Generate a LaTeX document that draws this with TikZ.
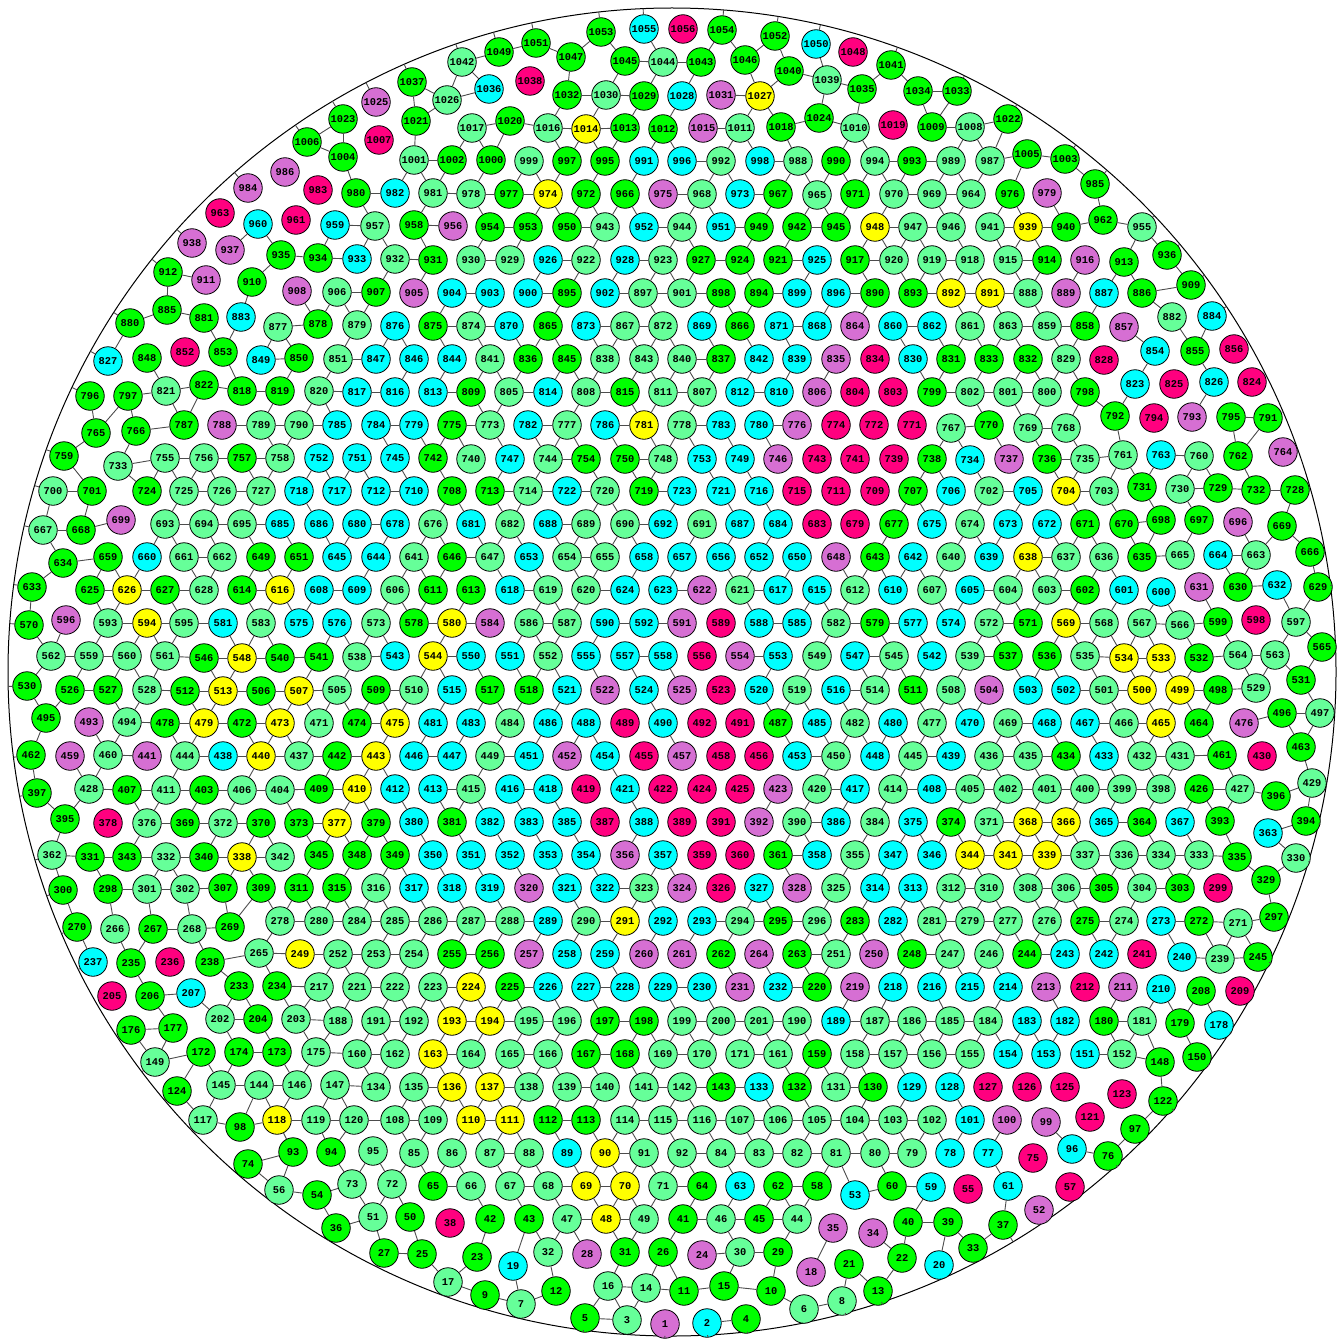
\documentclass[tikz,border=0pt]{standalone}
\usepackage{fontspec}
\setmonofont{Liberation Mono}
\definecolor{ballgreen}{HTML}{00FF00}
\definecolor{ballmint}{HTML}{66FF99}
\definecolor{ballcyan}{HTML}{00FFFF}
\definecolor{ballyellow}{HTML}{FFFF00}
\definecolor{ballorchid}{HTML}{D66FD3}
\definecolor{ballpink}{HTML}{FF007F}
\tikzset{
ball/.style={circle, draw=black, line width=0.8pt, minimum size=28.5pt, inner sep=0pt, font=\ttfamily\bfseries\fontsize{10.4}{11}\selectfont},
ballg/.style={ball, fill=ballgreen},
ballm/.style={ball, fill=ballmint},
ballc/.style={ball, fill=ballcyan},
bally/.style={ball, fill=ballyellow},
ballp/.style={ball, fill=ballorchid},
ballr/.style={ball, fill=ballpink},
linkline/.style={draw=black!70, line width=0.9pt}
}
\def\degreeg{3}\def\degreem{4}\def\degreec{2}\def\degreey{5}\def\degreep{1}\def\degreer{0}
\newcount\nnodes \newcount\ncand \newcount\nodei \newcount\nodej \newcount\candk
\newcount\canda \newcount\candb \newcount\gapx \newcount\gapy \newcount\gapd
\newcount\changed \newcount\openleft \newcount\stride \newcount\stridepos
\def\X#1{\count\numexpr10000+#1\relax}
\def\Y#1{\count\numexpr11200+#1\relax}
\def\Cap#1{\count\numexpr12400+#1\relax}
\def\Lab#1{\count\numexpr13600+#1\relax}
\def\Av#1{\count\numexpr14800+#1\relax}
\def\Tch#1{\count\numexpr16000+#1\relax}
\def\Tk#1{\count\numexpr17200+#1\relax}
\def\CA#1{\count\numexpr20000+#1\relax}
\def\CB#1{\count\numexpr24000+#1\relax}
\def\CS#1{\count\numexpr28000+#1\relax}
\def\storeball#1#2#3#4{%
  \global\advance\nnodes 1
  \global\X\nnodes=#1 \global\Y\nnodes=#2
  \global\Cap\nnodes=\csname degree#3\endcsname\relax
  \global\Lab\nnodes=#4 }
\def\reserveticks{%
  \nodei=0
  \loop\ifnum\nodei<\nnodes \advance\nodei 1
    \Tk\nodei=0
    \gapd=\numexpr(\X\nodei-672)*(\X\nodei-672)+(\Y\nodei-672)*(\Y\nodei-672)\relax
    \ifnum\gapd>401956 \ifnum\Cap\nodei>0
      \Tk\nodei=1 \advance\Cap\nodei -1
    \fi\fi
  \repeat}
\def\buildcand{%
  \ncand=0 \nodei=1 \nodej=2
  \loop\ifnum\nodei<\nnodes
    \gapx=\numexpr\X\nodei-\X\nodej\relax
    \ifnum\gapx<50 \ifnum\gapx>-50
      \gapy=\numexpr\Y\nodei-\Y\nodej\relax
      \gapd=\numexpr\gapx*\gapx+\gapy*\gapy\relax
      \ifnum\gapd<2500
        \advance\ncand 1
        \CA\ncand=\nodei \CB\ncand=\nodej \CS\ncand=0
      \fi
    \fi\fi
    \advance\nodej 1
    \ifnum\nodej>\nnodes \advance\nodei 1 \nodej=\numexpr\nodei+1\relax\fi
  \repeat}
\def\seeduse{\ifnum\CS\candk=0 \ifnum\Cap\canda>0 \ifnum\Cap\candb>0
  \global\CS\candk=1 \global\advance\Cap\canda -1 \global\advance\Cap\candb -1
  \fi\fi\fi}
\def\seedlink#1#2{%
  \candk=0
  \loop\ifnum\candk<\ncand \advance\candk 1
    \canda=\CA\candk \candb=\CB\candk
    \ifnum\Lab\canda=#1 \ifnum\Lab\candb=#2 \seeduse\fi\fi
    \ifnum\Lab\canda=#2 \ifnum\Lab\candb=#1 \seeduse\fi\fi
  \repeat}
\def\usecand{\CS\candk=1 \advance\Cap\canda -1 \advance\Cap\candb -1
  \advance\Av\canda -1 \advance\Av\candb -1 \changed=1 }
\def\matchround{%
  \nodei=0
  \loop\ifnum\nodei<\nnodes \advance\nodei 1 \Av\nodei=0 \Tch\nodei=0 \repeat
  \openleft=0 \candk=0
  \loop\ifnum\candk<\ncand \advance\candk 1
    \ifnum\CS\candk=0
      \canda=\CA\candk \candb=\CB\candk
      \ifnum\Cap\canda=0 \CS\candk=2
      \else\ifnum\Cap\candb=0 \CS\candk=2
      \else \advance\Av\canda 1 \advance\Av\candb 1 \advance\openleft 1 \fi\fi
    \fi
  \repeat
  \changed=0 \candk=0
  \loop\ifnum\candk<\ncand \advance\candk 1
    \advance\stridepos 1
    \ifnum\CS\candk=0
      \canda=\CA\candk \candb=\CB\candk
      \ifnum\Cap\canda>0 \ifnum\Cap\candb>0
        \ifnum\Av\canda>\Cap\canda
          \ifnum\Av\candb>\Cap\candb
            \ifnum\stridepos<\stride\else
              \ifnum\Tch\canda=0 \ifnum\Tch\candb=0
                \usecand \Tch\canda=1 \Tch\candb=1
              \fi\fi
            \fi
          \else \usecand \fi
        \else \usecand \fi
      \fi\fi
    \fi
    \ifnum\stridepos<\stride\else\stridepos=0 \fi
  \repeat
  \advance\stridepos 1 }
\def\runmatch{\matchround
  \ifnum\openleft>0
    \ifnum\changed=0 \stride=1 \else\stride=3 \fi
    \expandafter\runmatch
  \fi}
\begin{document}
\begin{tikzpicture}[x=1pt,y=-1pt]
\clip (0,0) rectangle (1337,1340);
\draw[line width=1pt] (672,672) circle (664pt);
\foreach \px/\py/\pc/\pl in {
644/29/c/1055,683/29/r/1056,722/30/g/1054,601/32/g/1053,775/36/g/1052,816/44/c/1050,853/52/r/1048,499/52/g/1049,536/43/g/1051,571/57/g/1047,625/61/g/1045,663/62/m/1044,701/62/g/1043,745/60/g/1046,462/62/m/1042,891/65/g/1041,789/71/g/1040,827/80/m/1039,530/81/r/1038,412/82/g/1037,862/89/g/1035,489/89/c/1036,918/91/g/1034,957/91/g/1033,567/95/g/1032,606/95/m/1030,644/96/g/1029,682/96/c/1028,721/95/p/1031,760/96/y/1027,447/100/m/1026,376/102/p/1025,
819/118/g/1024,343/119/g/1023,1008/119/g/1022,416/121/g/1021,510/121/g/1020,472/128/m/1017,548/128/m/1016,586/129/y/1014,625/128/g/1013,663/129/g/1012,703/128/p/1015,740/128/m/1011,781/127/g/1018,855/128/m/1010,893/125/r/1019,932/127/g/1009,970/127/m/1008,379/140/r/1007,307/142/g/1006,1027/154/g/1005,343/157/g/1004,1065/159/g/1003,
414/160/m/1001,452/160/g/1002,491/160/g/1000,529/161/m/999,567/161/g/997,605/161/g/995,644/161/c/991,682/161/c/996,721/161/m/992,760/161/c/998,798/161/m/988,836/161/g/990,875/161/m/994,912/161/g/993,951/161/m/989,990/161/m/987,285/172/p/986,1095/184/g/985,248/188/p/984,318/190/r/983,
395/193/c/982,433/193/m/981,356/193/g/980,471/194/m/978,509/194/g/977,548/194/y/974,586/194/g/972,625/194/g/966,663/194/p/975,702/194/m/968,740/194/c/973,778/194/g/967,817/195/m/965,855/194/g/971,894/194/m/970,932/194/m/969,971/194/m/964,1010/194/g/976,1047/193/p/979,220/213/r/963,296/220/r/961,1103/220/g/962,258/224/c/960,335/225/c/959,
414/225/g/958,375/226/m/957,453/226/p/956,490/227/g/954,528/227/g/953,567/227/g/950,605/227/m/943,644/227/c/952,682/227/m/944,721/227/c/951,759/227/g/949,797/227/g/942,836/227/g/945,875/227/y/948,913/227/m/947,951/227/m/946,990/227/m/941,1028/227/y/939,1066/227/g/940,1142/227/m/955,192/243/p/938,230/250/p/937,1167/255/g/936,281/255/g/935,
318/258/g/934,357/259/c/933,395/259/m/932,433/260/g/931,471/260/m/930,510/260/m/929,548/260/c/926,586/260/m/922,625/260/c/928,663/260/m/923,701/260/g/927,740/260/g/924,778/260/g/921,817/260/c/925,855/260/g/917,894/260/m/920,932/260/m/919,970/260/m/918,1008/260/m/915,1047/260/g/914,1085/260/p/916,1124/262/g/913,168/272/g/912,206/280/p/911,252/282/g/910,1191/285/g/909,
297/291/p/908,376/292/g/907,337/292/m/906,414/293/p/905,452/293/c/904,490/293/c/903,528/293/c/900,567/293/g/895,605/293/c/902,643/293/m/897,682/293/m/901,721/293/g/898,759/293/g/894,797/293/c/899,836/293/c/896,875/293/g/890,913/293/g/893,951/293/y/892,990/293/y/891,1028/293/m/888,1066/293/p/889,1104/293/c/887,1142/293/g/886,167/310/g/885,1212/316/c/884,241/317/c/883,1172/317/m/882,204/318/g/881,130/323/g/880,
357/325/m/879,318/324/g/878,278/327/m/877,395/326/c/876,433/326/g/875,471/326/m/874,509/326/c/870,548/326/g/865,586/326/c/873,625/326/m/867,663/326/m/872,702/326/c/869,740/326/g/866,779/326/c/871,817/326/c/868,855/326/p/864,893/326/c/860,932/326/c/862,970/326/m/861,1008/326/m/863,1047/326/m/859,1085/326/g/858,1124/327/p/857,1234/349/r/856,1195/351/g/855,1155/351/c/854,223/352/g/853,185/352/r/852,
338/359/m/851,299/358/g/850,261/360/c/849,147/358/g/848,376/359/c/847,414/359/c/846,452/359/c/844,490/359/m/841,528/359/g/836,567/359/g/845,605/359/m/838,644/359/m/843,682/359/m/840,721/359/g/837,759/359/c/842,797/359/c/839,836/359/p/835,875/359/r/834,913/359/c/830,951/359/g/831,989/359/g/833,1028/359/g/832,1066/359/m/829,1104/360/r/828,108/361/c/827,1214/382/c/826,1174/384/r/825,1252/382/r/824,1135/384/c/823,204/385/g/822,166/391/m/821,
319/391/m/820,280/391/g/819,242/391/g/818,357/392/c/817,395/392/c/816,433/392/c/813,471/392/g/809,509/392/m/805,548/392/c/814,586/392/m/808,625/392/g/815,663/392/m/811,702/392/m/807,740/392/c/812,779/392/c/810,817/392/p/806,855/392/r/804,893/392/r/803,932/392/g/799,970/392/m/802,1008/392/m/801,1047/392/m/800,1085/392/g/798,128/396/g/797,90/396/g/796,1231/417/g/795,1154/418/r/794,1192/417/p/793,1115/416/g/792,1268/418/g/791,
299/425/m/790,261/425/m/789,222/425/p/788,184/425/g/787,337/425/c/785,376/425/c/784,414/425/c/779,452/425/g/775,490/425/m/773,528/425/c/782,567/425/m/777,605/425/c/786,644/425/y/781,682/425/m/778,721/425/c/783,759/425/c/780,797/425/p/776,836/425/r/774,874/425/r/772,912/425/r/771,951/428/m/767,989/425/g/770,1028/428/m/769,1066/428/m/768,136/431/g/766,96/433/g/765,1283/452/p/764,1161/455/c/763,1238/456/g/762,1123/455/m/761,1199/456/m/760,64/456/g/759,
280/458/m/758,242/458/g/757,204/458/m/756,165/458/m/755,319/458/c/752,357/458/c/751,395/458/c/745,433/458/g/742,471/459/m/740,510/459/c/747,548/459/m/744,586/459/g/754,625/459/g/750,663/459/m/748,702/459/c/753,740/459/c/749,778/459/p/746,817/459/r/743,855/459/r/741,894/459/r/739,932/459/g/738,970/460/c/734,1009/459/p/737,1047/459/g/736,1085/459/m/735,118/466/m/733,1256/490/g/732,1142/487/g/731,1180/489/m/730,1218/488/g/729,1295/490/g/728,
261/491/m/727,222/491/m/726,184/491/m/725,147/491/g/724,682/491/c/723,567/491/c/722,721/491/c/721,605/491/m/720,644/491/g/719,299/491/c/718,337/491/c/717,759/491/c/716,797/491/r/715,528/491/m/714,490/491/g/713,376/491/c/712,836/491/r/711,414/491/c/710,875/491/r/709,452/491/g/708,913/491/g/707,951/491/c/706,1028/491/c/705,1066/491/y/704,1104/491/m/703,989/491/m/702,92/491/g/701,53/491/m/700,121/520/p/699,1161/520/g/698,1199/520/g/697,1238/522/p/696,
242/524/m/695,204/524/m/694,165/524/m/693,663/524/c/692,702/524/m/691,625/524/m/690,586/524/m/689,548/524/c/688,740/524/c/687,319/524/c/686,280/524/c/685,778/524/c/684,817/524/r/683,510/524/m/682,471/524/c/681,357/524/c/680,855/524/r/679,395/524/c/678,894/524/g/677,433/524/m/676,932/524/c/675,970/524/m/674,1008/524/c/673,1047/524/c/672,1085/524/g/671,1124/524/g/670,1282/526/g/669,81/530/g/668,43/530/m/667,1310/552/g/666,1180/555/m/665,1218/555/c/664,1256/555/m/663,
222/557/m/662,184/557/m/661,147/557/c/660,108/557/g/659,644/557/c/658,682/557/c/657,721/557/c/656,605/557/m/655,567/557/m/654,529/557/c/653,759/557/c/652,299/557/g/651,797/557/c/650,261/557/g/649,836/557/p/648,490/557/m/647,452/557/g/646,337/557/c/645,376/557/c/644,875/557/g/643,913/557/c/642,414/557/m/641,951/557/m/640,989/557/c/639,1028/557/y/638,1066/557/m/637,1104/557/m/636,1142/557/g/635,63/563/g/634,32/587/g/633,1277/585/c/632,1199/587/p/631,1238/587/g/630,1318/587/g/629,
204/590/m/628,165/590/g/627,127/590/y/626,90/590/g/625,625/590/c/624,663/590/c/623,702/590/p/622,740/590/m/621,586/590/m/620,548/590/m/619,510/590/c/618,778/590/c/617,280/590/y/616,817/590/c/615,242/590/g/614,471/590/g/613,855/590/m/612,433/590/g/611,893/590/c/610,357/590/c/609,319/590/c/608,932/590/m/607,395/590/m/606,970/590/c/605,1008/590/m/604,1047/590/m/603,1085/590/g/602,1124/590/c/601,1161/592/c/600,1218/622/g/599,1256/620/r/598,1296/622/m/597,66/620/p/596,
184/623/m/595,147/623/y/594,108/623/m/593,644/623/c/592,682/623/p/591,605/623/c/590,721/623/r/589,759/623/c/588,567/623/m/587,529/623/m/586,797/623/c/585,490/623/p/584,261/623/m/583,836/623/m/582,223/623/c/581,452/623/y/580,875/623/g/579,414/623/g/578,913/623/c/577,337/623/c/576,299/623/c/575,951/623/c/574,376/623/m/573,989/623/m/572,1028/623/g/571,29/625/g/570,1066/623/y/569,1104/623/m/568,1142/623/m/567,1180/625/m/566,1322/647/g/565,1238/655/m/564,1275/655/m/563,51/656/m/562,
165/656/m/561,127/656/m/560,89/656/m/559,663/656/c/558,625/656/c/557,702/656/r/556,586/656/c/555,740/656/p/554,778/656/c/553,548/656/m/552,510/656/c/551,471/656/c/550,817/656/m/549,242/658/y/548,855/656/c/547,204/658/g/546,894/656/m/545,433/656/y/544,395/656/c/543,932/656/c/542,319/657/g/541,280/658/g/540,970/656/m/539,357/657/m/538,1008/656/g/537,1047/656/g/536,1085/656/m/535,1124/658/y/534,1161/658/y/533,1199/658/g/532,1301/680/g/531,27/686/g/530,1256/688/m/529,
147/690/m/528,108/690/g/527,70/690/g/526,682/690/p/525,644/690/c/524,721/690/r/523,605/690/p/522,567/690/c/521,759/690/c/520,797/690/m/519,529/690/g/518,490/690/g/517,836/690/c/516,452/690/c/515,875/690/m/514,223/691/y/513,185/691/g/512,913/690/g/511,414/690/m/510,376/690/g/509,951/690/m/508,299/691/y/507,261/691/g/506,337/690/m/505,989/690/p/504,1028/690/c/503,1066/690/c/502,1104/690/m/501,1142/690/y/500,1180/690/y/499,1218/690/g/498,1320/713/m/497,1282/713/g/496,46/718/g/495,
127/722/m/494,89/722/p/493,702/723/r/492,740/723/r/491,663/723/c/490,625/723/r/489,586/723/c/488,778/723/g/487,548/723/c/486,817/723/c/485,510/723/m/484,471/723/c/483,855/723/m/482,433/723/c/481,893/723/c/480,204/723/y/479,165/723/g/478,932/723/m/477,1244/723/p/476,395/723/y/475,357/723/g/474,280/723/y/473,242/723/g/472,319/723/m/471,970/723/c/470,1008/723/m/469,1047/723/c/468,1085/723/c/467,1124/723/m/466,1161/723/y/465,1199/723/g/464,1301/747/g/463,31/755/g/462,1222/755/g/461,
108/755/m/460,70/756/p/459,721/756/r/458,682/756/p/457,759/756/r/456,644/756/r/455,605/756/c/454,797/756/c/453,567/756/p/452,529/756/c/451,836/756/m/450,490/756/m/449,875/756/c/448,452/756/c/447,414/756/c/446,913/756/m/445,185/756/m/444,376/756/y/443,337/756/g/442,147/756/p/441,261/756/y/440,951/756/c/439,223/756/c/438,299/756/m/437,989/756/m/436,1028/756/m/435,1066/756/g/434,1104/756/c/433,1142/756/m/432,1180/756/m/431,1262/756/r/430,1312/783/m/429,
89/789/m/428,1240/789/m/427,1199/789/g/426,740/789/r/425,702/789/r/424,778/789/p/423,663/789/r/422,625/789/c/421,817/789/m/420,586/789/r/419,548/789/c/418,855/789/c/417,510/789/c/416,471/789/m/415,893/789/m/414,433/789/c/413,395/789/c/412,166/790/m/411,357/789/y/410,319/789/g/409,932/789/c/408,127/790/g/407,242/790/m/406,970/789/m/405,280/790/m/404,204/790/g/403,1008/789/m/402,1047/789/m/401,1085/789/m/400,1122/789/m/399,1161/789/m/398,37/793/g/397,1276/796/g/396,65/819/g/395,1306/821/g/394,1220/821/g/393,
759/822/p/392,721/822/r/391,797/822/m/390,682/822/r/389,644/822/c/388,605/822/r/387,836/822/c/386,567/822/c/385,875/822/m/384,529/822/c/383,490/822/c/382,452/822/g/381,414/822/c/380,376/823/g/379,108/823/r/378,337/823/y/377,147/823/m/376,913/822/c/375,951/822/g/374,299/823/g/373,223/823/m/372,989/822/m/371,261/823/g/370,185/823/g/369,1028/822/y/368,1180/822/c/367,1066/822/y/366,1104/822/c/365,1142/822/g/364,1268/833/c/363,52/855/m/362,
778/855/g/361,740/855/r/360,702/855/r/359,817/855/c/358,663/855/c/357,625/855/p/356,855/855/m/355,586/855/c/354,548/855/c/353,510/855/c/352,471/855/c/351,433/855/c/350,395/855/g/349,357/855/g/348,893/855/c/347,932/855/c/346,319/855/g/345,970/855/y/344,127/857/g/343,280/857/m/342,1008/855/y/341,204/857/g/340,1047/855/y/339,242/857/y/338,1085/855/m/337,1124/855/m/336,1237/857/g/335,1161/855/m/334,1199/855/m/333,166/857/m/332,90/857/g/331,1296/858/m/330,1266/880/g/329,
797/888/p/328,759/888/c/327,721/888/r/326,836/888/m/325,682/888/p/324,644/888/m/323,605/888/c/322,567/888/c/321,529/888/p/320,490/888/c/319,452/888/c/318,414/888/c/317,376/888/m/316,337/888/g/315,875/888/c/314,913/888/c/313,951/888/m/312,299/888/g/311,989/888/m/310,261/888/g/309,1028/888/m/308,223/888/g/307,1066/888/m/306,1104/888/g/305,1142/888/m/304,1180/888/g/303,185/889/m/302,147/889/m/301,63/890/g/300,1218/888/r/299,108/889/g/298,1274/917/g/297,
817/921/m/296,778/921/g/295,740/921/m/294,702/921/c/293,663/921/c/292,625/921/y/291,586/921/m/290,548/921/c/289,510/921/m/288,471/921/m/287,433/921/m/286,395/921/m/285,357/921/m/284,855/921/g/283,893/921/c/282,932/921/m/281,319/921/m/280,970/921/m/279,280/921/m/278,1008/921/m/277,1047/921/m/276,1085/921/g/275,1124/921/m/274,1161/921/c/273,1199/921/g/272,1238/923/m/271,77/927/g/270,230/927/g/269,192/929/m/268,153/929/g/267,115/929/m/266,
259/953/m/265,759/954/p/264,797/954/g/263,721/954/g/262,682/954/p/261,644/954/p/260,605/954/c/259,567/954/c/258,529/954/p/257,490/954/g/256,452/954/g/255,414/954/m/254,376/954/m/253,338/954/m/252,836/954/m/251,874/954/p/250,300/954/y/249,912/954/g/248,950/954/m/247,989/954/m/246,1258/957/g/245,1027/954/g/244,1065/954/c/243,1104/954/c/242,1142/954/r/241,1182/957/c/240,1220/959/m/239,210/962/g/238,93/962/c/237,170/962/r/236,131/963/g/235,
277/986/g/234,239/986/g/233,778/987/c/232,740/987/p/231,702/987/c/230,663/987/c/229,625/987/c/228,586/987/c/227,548/987/c/226,510/987/g/225,471/987/y/224,433/987/m/223,395/987/m/222,357/987/m/221,817/987/g/220,855/987/p/219,893/987/c/218,319/987/m/217,932/987/c/216,970/987/c/215,1008/987/c/214,1046/987/p/213,1085/987/r/212,1123/987/p/211,1161/989/c/210,1240/991/r/209,1201/991/g/208,191/993/c/207,150/996/g/206,112/996/r/205,
258/1019/g/204,296/1019/m/203,220/1019/m/202,759/1021/m/201,721/1021/m/200,682/1021/m/199,644/1021/g/198,605/1021/g/197,567/1021/m/196,529/1021/m/195,490/1021/y/194,452/1021/y/193,414/1021/m/192,376/1021/m/191,797/1021/m/190,836/1021/c/189,338/1021/m/188,875/1021/m/187,912/1021/m/186,950/1021/m/185,988/1021/m/184,1027/1021/c/183,1065/1021/c/182,1142/1021/m/181,1104/1021/g/180,1180/1023/g/179,1219/1025/c/178,173/1028/g/177,131/1030/g/176,
316/1052/m/175,239/1052/g/174,277/1052/g/173,201/1052/g/172,740/1054/m/171,702/1054/m/170,663/1054/m/169,625/1054/g/168,586/1054/g/167,548/1054/m/166,510/1054/m/165,471/1054/m/164,433/1054/y/163,395/1054/m/162,778/1054/m/161,357/1054/m/160,817/1054/g/159,855/1054/m/158,893/1054/m/157,932/1054/m/156,970/1054/m/155,1008/1054/c/154,1046/1054/c/153,1122/1054/m/152,1085/1054/c/151,1197/1057/g/150,155/1062/m/149,1160/1062/g/148,
335/1085/m/147,297/1085/m/146,221/1085/m/145,259/1085/m/144,721/1087/g/143,682/1087/m/142,644/1087/m/141,605/1087/m/140,567/1087/m/139,529/1087/m/138,490/1087/y/137,452/1087/y/136,414/1087/m/135,376/1087/m/134,759/1087/c/133,797/1087/g/132,836/1087/m/131,873/1087/g/130,912/1087/c/129,950/1087/c/128,988/1087/r/127,1027/1087/r/126,1065/1087/r/125,177/1091/g/124,1122/1094/r/123,1163/1101/g/122,1090/1117/r/121,
354/1120/m/120,316/1120/m/119,277/1120/y/118,203/1120/m/117,702/1120/m/116,663/1120/m/115,625/1120/m/114,586/1120/g/113,548/1120/g/112,510/1120/y/111,471/1120/y/110,433/1120/m/109,395/1120/m/108,740/1120/m/107,778/1120/m/106,817/1120/m/105,855/1120/m/104,893/1120/m/103,932/1120/m/102,970/1120/c/101,1007/1120/p/100,1046/1122/p/99,240/1127/g/98,1135/1129/g/97,1072/1149/c/96,373/1151/m/95,331/1152/g/94,293/1152/g/93,
682/1153/m/92,644/1153/m/91,605/1153/y/90,567/1153/c/89,529/1153/m/88,490/1153/m/87,452/1153/m/86,414/1153/m/85,721/1153/m/84,759/1153/m/83,797/1153/m/82,836/1153/m/81,875/1153/m/80,912/1153/m/79,950/1153/c/78,988/1153/c/77,1108/1156/g/76,1033/1158/r/75,248/1164/g/74,352/1184/m/73,392/1184/m/72,
663/1186/m/71,625/1186/y/70,586/1186/y/69,548/1186/m/68,510/1186/m/67,471/1186/m/66,433/1186/g/65,702/1186/g/64,740/1186/c/63,778/1186/g/62,1008/1186/c/61,892/1186/g/60,931/1187/c/59,817/1186/g/58,1070/1187/r/57,279/1190/m/56,968/1189/r/55,317/1195/g/54,855/1195/c/53,1039/1210/p/52,373/1217/m/51,410/1217/g/50,
644/1219/m/49,606/1219/y/48,567/1219/m/47,721/1219/m/46,759/1219/g/45,797/1219/m/44,529/1219/g/43,490/1219/g/42,683/1219/g/41,908/1222/g/40,948/1222/g/39,450/1223/r/38,1003/1225/g/37,336/1228/g/36,833/1228/p/35,873/1233/p/34,973/1248/g/33,548/1252/m/32,625/1252/g/31,740/1252/m/30,778/1252/g/29,587/1254/p/28,384/1253/g/27,663/1252/g/26,422/1254/g/25,702/1255/p/24,477/1257/g/23,902/1258/g/22,849/1264/g/21,939/1265/c/20,513/1266/c/19,811/1272/p/18,
448/1282/m/17,608/1286/m/16,724/1286/g/15,646/1288/m/14,878/1291/g/13,556/1291/g/12,684/1291/g/11,771/1291/g/10,485/1295/g/9,842/1301/m/8,521/1304/m/7,804/1309/m/6,585/1318/g/5,746/1319/g/4,627/1320/m/3,707/1323/c/2,665/1324/p/1}{
\node[ball\pc] (n\pl) at (\px,\py) {\pl};
\storeball{\px}{\py}{\pc}{\pl}
}
\reserveticks
\buildcand
\foreach \la/\lb in {1053/1047,1053/1045,1047/1032,1045/1044,1045/1030,1044/1043,1044/1055,1044/1029,1043/1054,1043/1028,1054/1046,1046/1052,1046/1027,1052/1040,1040/1027,1040/1039,1039/1050,1039/1024,1039/1035,1032/1030,1030/1029,1030/1014,1029/1013,1028/1012,1031/1027,1027/1011,1027/1018,1018/1024,1018/988,1024/1010,1014/1013,1014/997,1014/995,1013/995,1012/991,1012/996,1015/1011,1011/992,1011/998,1010/990,995/972,991/966,996/992,992/968,992/973,998/988,988/967,988/965,990/965,990/971,972/943,966/943,966/952,975/968,968/944,968/951,973/967,967/949,965/942,965/945,952/944,951/949,
570/562,596/562,593/559,594/560,594/561,595/561,562/559,559/560,562/530,559/526,560/527,560/528,561/528,561/546,546/548,548/540,546/513,548/513,530/495,526/527,526/495,527/494,528/512,528/494,512/513,512/479,513/506,513/479,506/507,506/473,495/462,493/460,494/478,494/460,478/479,478/444,479/472,479/444,472/473,472/440,473/440,462/397,459/428,460/441,460/428,444/438,444/411,438/440,440/437,440/406,397/395,428/407,428/395,407/411,407/376,411/403,411/376,403/406,403/369,406/404,406/372,395/362,376/369,376/343,369/372,372/370,372/340,370/338,362/331,331/343,343/332,332/340}{
\seedlink{\la}{\lb}
}
\stride=3 \stridepos=0
\runmatch
\candk=0
\loop\ifnum\candk<\ncand \advance\candk 1
\ifnum\CS\candk=1
\draw[linkline] (n\the\Lab{\CA\candk}) -- (n\the\Lab{\CB\candk});
\fi
\repeat
\nodei=0
\loop\ifnum\nodei<\nnodes \advance\nodei 1
\ifnum\Tk\nodei=1
\pgfmathsetmacro\tickang{atan2(\the\Y\nodei-672,\the\X\nodei-672)}
\coordinate (t\the\Lab\nodei) at ({672+664*cos(\tickang)},{672+664*sin(\tickang)});
\draw[linkline] (n\the\Lab\nodei) -- (t\the\Lab\nodei);
\fi
\repeat
\end{tikzpicture}
\end{document}
